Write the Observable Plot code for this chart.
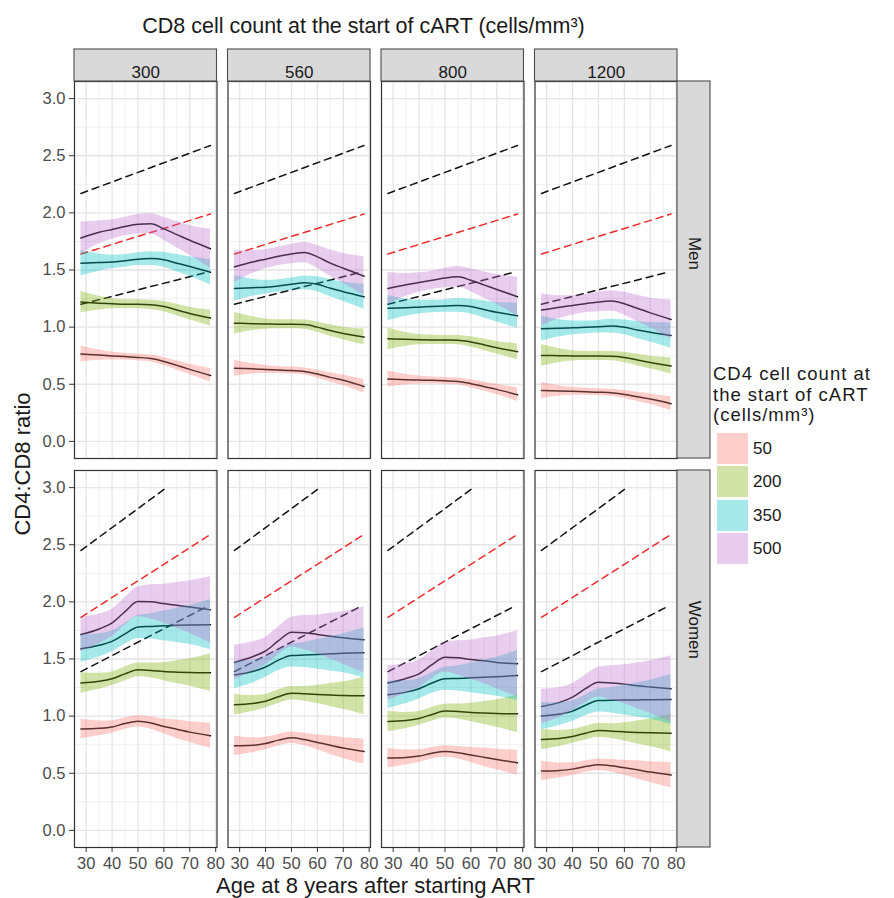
<!DOCTYPE html>
<html>
<head>
<meta charset="utf-8">
<script src="https://cdn.jsdelivr.net/npm/d3@7"></script>
<script src="https://cdn.jsdelivr.net/npm/@observablehq/plot@0.6"></script>
<style>
  html, body { margin: 0; padding: 0; background: #fff; }
  body { font-family: "Liberation Sans", Arial, sans-serif; }
  #wrap { position: relative; width: 894px; height: 898px; overflow: hidden; }
  #title { position: absolute; left: 62px; width: 603px; top: 15px; text-align: center;
           font-size: 21.5px; line-height: 22px; color: #1a1a1a; white-space: nowrap; }
  #plot { position: absolute; left: 0; top: 46px; }
  #xtitle { position: absolute; left: 74px; width: 603px; top: 876px; text-align: center;
            font-size: 22px; line-height: 20px; color: #1a1a1a; white-space: nowrap; }
  #ytitle { position: absolute; left: 23px; top: 464px; width: 300px; text-align: center;
            font-size: 22px; line-height: 20px; color: #1a1a1a; white-space: nowrap;
            transform: translate(-50%, -50%) rotate(-90deg); }
  #legend { position: absolute; left: 713px; top: 364px; color: #1a1a1a; }
  #legend .lt { position: absolute; left: 0; font-size: 18.5px; line-height: 20px; letter-spacing: 1px; white-space: nowrap; }
  #legend .row { position: absolute; left: 4px; width: 31px; height: 31px; }
  #legend .lab { position: absolute; left: 40px; font-size: 17px; line-height: 31px; }
</style>
</head>
<body>
<div id="wrap">
  <div id="title">CD8 cell count at the start of cART (cells/mm³)</div>
  <div id="plot"></div>
  <div id="ytitle">CD4:CD8 ratio</div>
  <div id="xtitle">Age at 8 years after starting ART</div>
  <div id="legend"></div>
</div>
<script>
// ---------- data ----------
const ages = [28, 35, 40, 45, 50, 55, 60, 65, 70, 78];
const cd8Levels = ["300", "560", "800", "1200"];
const sexes = ["Men", "Women"];
const cd4Levels = ["50", "200", "350", "500"];
const cd4Colors = ["#F8766D", "#7CAE00", "#00BFC4", "#BF6FCF"];
const legendTitleLines = ["CD4 cell count at", "the start of cART", "(cells/mm³)"];
const xTicks = [30, 40, 50, 60, 70, 80];
const xMinor = [35, 45, 55, 65, 75];
const yTicks = [0, 0.5, 1, 1.5, 2, 2.5, 3];
const yMinor = [0.25, 0.75, 1.25, 1.75, 2.25, 2.75];

// smoothed CD4:CD8 ratio, rows follow cd4Levels (50, 200, 350, 500), columns follow ages
const men300 = [
  [0.765, 0.755, 0.748, 0.742, 0.735, 0.725, 0.700, 0.665, 0.630, 0.577],
  [1.220, 1.210, 1.205, 1.200, 1.200, 1.195, 1.180, 1.150, 1.120, 1.080],
  [1.560, 1.565, 1.570, 1.580, 1.595, 1.600, 1.590, 1.560, 1.530, 1.480],
  [1.780, 1.830, 1.855, 1.880, 1.900, 1.905, 1.860, 1.810, 1.760, 1.686]
];
const men560 = [
  [0.641, 0.635, 0.630, 0.625, 0.620, 0.612, 0.590, 0.560, 0.535, 0.481],
  [1.035, 1.030, 1.027, 1.025, 1.025, 1.022, 1.000, 0.970, 0.945, 0.913],
  [1.339, 1.345, 1.350, 1.360, 1.375, 1.388, 1.375, 1.340, 1.310, 1.266],
  [1.528, 1.570, 1.595, 1.620, 1.640, 1.654, 1.615, 1.560, 1.515, 1.446]
];
const men800 = [
  [0.545, 0.540, 0.537, 0.534, 0.530, 0.525, 0.505, 0.480, 0.455, 0.408],
  [0.898, 0.893, 0.890, 0.888, 0.887, 0.886, 0.870, 0.845, 0.820, 0.785],
  [1.166, 1.170, 1.175, 1.180, 1.185, 1.190, 1.180, 1.155, 1.130, 1.100],
  [1.339, 1.370, 1.390, 1.410, 1.430, 1.440, 1.410, 1.370, 1.330, 1.266]
];
const men1200 = [
  [0.446, 0.442, 0.438, 0.434, 0.430, 0.426, 0.410, 0.390, 0.370, 0.330],
  [0.752, 0.750, 0.748, 0.747, 0.747, 0.746, 0.735, 0.712, 0.690, 0.659],
  [0.986, 0.990, 0.994, 0.998, 1.004, 1.009, 0.998, 0.975, 0.955, 0.927],
  [1.149, 1.175, 1.190, 1.205, 1.220, 1.228, 1.205, 1.165, 1.125, 1.067]
];
const women300 = [
  [0.887, 0.893, 0.905, 0.935, 0.954, 0.940, 0.910, 0.885, 0.860, 0.828],
  [1.290, 1.305, 1.327, 1.370, 1.405, 1.400, 1.390, 1.385, 1.382, 1.380],
  [1.589, 1.620, 1.654, 1.720, 1.780, 1.785, 1.790, 1.795, 1.798, 1.800],
  [1.714, 1.763, 1.816, 1.915, 2.003, 2.000, 1.985, 1.970, 1.955, 1.930]
];
const women560 = [
  [0.740, 0.745, 0.760, 0.790, 0.810, 0.795, 0.770, 0.745, 0.720, 0.690],
  [1.100, 1.110, 1.130, 1.170, 1.200, 1.195, 1.190, 1.185, 1.180, 1.178],
  [1.360, 1.390, 1.430, 1.490, 1.530, 1.535, 1.540, 1.545, 1.550, 1.554],
  [1.470, 1.520, 1.570, 1.660, 1.735, 1.730, 1.715, 1.700, 1.685, 1.668]
];
const women800 = [
  [0.633, 0.638, 0.650, 0.675, 0.690, 0.680, 0.660, 0.640, 0.620, 0.592],
  [0.953, 0.962, 0.980, 1.015, 1.044, 1.040, 1.032, 1.027, 1.023, 1.020],
  [1.187, 1.210, 1.240, 1.290, 1.327, 1.330, 1.335, 1.340, 1.345, 1.356],
  [1.289, 1.330, 1.370, 1.450, 1.516, 1.510, 1.495, 1.485, 1.470, 1.458]
];
const women1200 = [
  [0.519, 0.525, 0.536, 0.558, 0.574, 0.565, 0.548, 0.530, 0.510, 0.484],
  [0.796, 0.805, 0.822, 0.850, 0.875, 0.868, 0.862, 0.857, 0.854, 0.851],
  [1.000, 1.018, 1.044, 1.095, 1.137, 1.138, 1.140, 1.142, 1.144, 1.146],
  [1.085, 1.120, 1.166, 1.240, 1.297, 1.290, 1.280, 1.265, 1.255, 1.239]
];

// half-width of the confidence band, rows follow cd4Levels, columns follow ages
const menBand = [
  [0.070, 0.045, 0.035, 0.030, 0.030, 0.030, 0.035, 0.040, 0.045, 0.060],
  [0.095, 0.060, 0.045, 0.040, 0.040, 0.040, 0.045, 0.050, 0.055, 0.070],
  [0.110, 0.075, 0.060, 0.055, 0.055, 0.060, 0.065, 0.075, 0.085, 0.110],
  [0.140, 0.100, 0.085, 0.080, 0.085, 0.090, 0.100, 0.115, 0.130, 0.170]
];
const womenBand = [
  [0.085, 0.065, 0.055, 0.050, 0.050, 0.055, 0.065, 0.080, 0.090, 0.110],
  [0.090, 0.070, 0.060, 0.060, 0.060, 0.065, 0.080, 0.100, 0.120, 0.165],
  [0.120, 0.100, 0.090, 0.090, 0.100, 0.110, 0.130, 0.150, 0.170, 0.220],
  [0.150, 0.130, 0.120, 0.120, 0.130, 0.150, 0.170, 0.200, 0.230, 0.290]
];

// dashed reference lines: upper (black), middle (red), lower (black)
const refKinds = ["upper", "red", "lower"];
const menRefAges = [[28, 78], [28, 78], [28, 76]];
const menRefValues = [[2.17, 2.59], [1.64, 1.99], [1.20, 1.476]];
const womenRefAges = [[28, 61], [28, 78], [28, 76]];
const womenRefValues = [[2.45, 3.0], [1.865, 2.59], [1.39, 1.952]];

// ---------- tables built from the arrays ----------
const smooth = [];
const refs = [];
sexes.forEach(sex => {
  const sets = sex === "Men" ? [men300, men560, men800, men1200] : [women300, women560, women800, women1200];
  const band = sex === "Men" ? menBand : womenBand;
  const rAges = sex === "Men" ? menRefAges : womenRefAges;
  const rVals = sex === "Men" ? menRefValues : womenRefValues;
  cd8Levels.forEach((cd8, j) => {
    cd4Levels.forEach((cd4, k) => {
      ages.forEach((age, i) => {
        const v = sets[j][k][i], h = band[k][i];
        smooth.push({sex, cd8, cd4, age, ratio: v, lo: v - h, hi: v + h});
      });
    });
    refKinds.forEach((kind, r) => {
      rAges[r].forEach((age, i) => refs.push({sex, cd8, kind, key: sex + cd8 + kind, age, value: rVals[r][i]}));
    });
  });
});

const xDomain = [25.5, 80.5];
const yDomain = [-0.15, 3.15];
const stripFill = "#d9d9d9", stripStroke = "#4d4d4d";
const tickFont = 16.5;

const hasAxisMarks = typeof Plot.axisX === "function";
const axisMarks = hasAxisMarks ? [
  Plot.axisX({ticks: xTicks, tickSize: 5, tickPadding: 5, label: null, fontSize: tickFont, stroke: "#333", fill: "#4d4d4d"}),
  Plot.axisY({ticks: yTicks, tickFormat: d3.format(".1f"), tickSize: 5, tickPadding: 4, label: null, fontSize: tickFont, stroke: "#333", fill: "#4d4d4d"})
] : [];

const chart = Plot.plot({
  width: 894,
  height: 852,
  marginTop: 35,
  marginLeft: 74,
  marginRight: 217,
  marginBottom: 51,
  style: {fontFamily: "'Liberation Sans', Arial, sans-serif", fontSize: tickFont + "px", color: "#4d4d4d", background: "#fff", overflow: "visible"},
  fx: {domain: cd8Levels, axis: null, paddingInner: 0.0717, paddingOuter: 0, round: false},
  fy: {domain: sexes, axis: null, paddingInner: 0.0308, paddingOuter: 0, round: false},
  x: {domain: xDomain, ticks: xTicks, tickSize: 5, tickPadding: 5, label: null},
  y: {domain: yDomain, ticks: yTicks, tickFormat: d3.format(".1f"), tickSize: 5, tickPadding: 4, label: null},
  color: {domain: cd4Levels, range: cd4Colors},
  marks: [
    Plot.ruleX(xMinor, {stroke: "#eeeeee", strokeWidth: 0.9}),
    Plot.ruleY(yMinor, {stroke: "#eeeeee", strokeWidth: 0.9}),
    Plot.ruleX(xTicks, {stroke: "#e5e5e5", strokeWidth: 1.3}),
    Plot.ruleY(yTicks, {stroke: "#e5e5e5", strokeWidth: 1.3}),
    ...axisMarks,
    Plot.line(refs.filter(d => d.kind !== "red"), {x: "age", y: "value", z: "key", fx: "cd8", fy: "sex",
      stroke: "#111", strokeWidth: 1.5, strokeDasharray: "7,5"}),
    Plot.line(refs.filter(d => d.kind === "red"), {x: "age", y: "value", z: "key", fx: "cd8", fy: "sex",
      stroke: "#ee2a2a", strokeWidth: 1.5, strokeDasharray: "7,5"}),
    Plot.line(smooth, {x: "age", y: "ratio", z: "cd4", fx: "cd8", fy: "sex",
      stroke: "#0d0d0d", strokeWidth: 1.5, curve: "monotone-x"}),
    Plot.areaY(smooth, {x: "age", y1: "lo", y2: "hi", z: "cd4", fill: "cd4", fillOpacity: 0.35,
      fx: "cd8", fy: "sex", curve: "monotone-x"}),
    Plot.frame({stroke: "#333", strokeWidth: 1.2}),
    // column strips (top)
    Plot.rect(cd8Levels, {fx: d => d, fy: () => "Men", x1: xDomain[0], x2: xDomain[1], y1: yDomain[1], y2: yDomain[1],
      insetTop: -32, fill: stripFill, stroke: stripStroke, strokeWidth: 1.1}),
    Plot.text(cd8Levels, {fx: d => d, fy: () => "Men", text: d => d, frameAnchor: "top", dy: -16,
      fill: "#1a1a1a", fontSize: 17}),
    // row strips (right)
    Plot.rect(sexes, {fy: d => d, fx: () => "1200", x1: xDomain[1], x2: xDomain[1], y1: yDomain[0], y2: yDomain[1],
      insetRight: -33, fill: stripFill, stroke: stripStroke, strokeWidth: 1.1}),
    Plot.text(sexes, {fy: d => d, fx: () => "1200", text: d => d, frameAnchor: "right", dx: 16.5, rotate: 90,
      fill: "#1a1a1a", fontSize: 17})
  ]
});
if (!hasAxisMarks) {
  d3.select(chart).selectAll("g[aria-label*='axis']").attr("font-size", tickFont);
}
document.getElementById("plot").appendChild(chart);

// ---------- legend ----------
const legend = document.getElementById("legend");
legendTitleLines.forEach((line, i) => {
  const t = document.createElement("div");
  t.className = "lt"; t.style.top = (i * 20.7) + "px"; t.textContent = line;
  legend.appendChild(t);
});
cd4Levels.forEach((lvl, i) => {
  const c = d3.color(cd4Colors[i]); c.opacity = 0.35;
  const top = 69 + i * 33.3;
  const key = document.createElement("div");
  key.className = "row"; key.style.top = top + "px"; key.style.background = c.formatRgb();
  const lab = document.createElement("div");
  lab.className = "lab"; lab.style.top = top + "px"; lab.textContent = lvl;
  legend.appendChild(key); legend.appendChild(lab);
});
</script>
</body>
</html>
